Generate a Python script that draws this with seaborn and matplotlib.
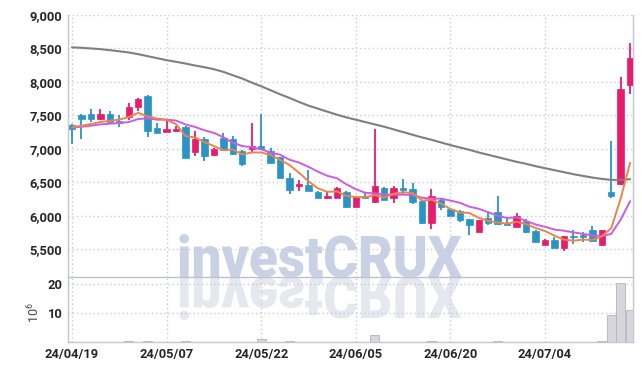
import numpy as np
import pandas as pd
import matplotlib
matplotlib.use("Agg")
import matplotlib.pyplot as plt
import seaborn as sns
from matplotlib import font_manager
from matplotlib.patheffects import AbstractPathEffect
from matplotlib.transforms import Affine2D
from matplotlib.ticker import StrMethodFormatter, FixedLocator

# trading days shown on the chart
dates = ["24/04/19", "24/04/22", "24/04/23", "24/04/24", "24/04/25", "24/04/26", "24/04/29", "24/04/30", "24/05/02", "24/05/03",
         "24/05/07", "24/05/08", "24/05/09", "24/05/10", "24/05/13", "24/05/14", "24/05/16", "24/05/17", "24/05/20", "24/05/21",
         "24/05/22", "24/05/23", "24/05/24", "24/05/27", "24/05/28", "24/05/29", "24/05/30", "24/05/31", "24/06/03", "24/06/04",
         "24/06/05", "24/06/07", "24/06/10", "24/06/11", "24/06/12", "24/06/13", "24/06/14", "24/06/17", "24/06/18", "24/06/19",
         "24/06/20", "24/06/21", "24/06/24", "24/06/25", "24/06/26", "24/06/27", "24/06/28", "24/07/01", "24/07/02", "24/07/03",
         "24/07/04", "24/07/05", "24/07/08", "24/07/09", "24/07/10", "24/07/11", "24/07/12", "24/07/15", "24/07/16", "24/07/17"]

opens = [7361, 7510, 7525, 7440, 7520, 7420, 7470, 7620, 7790, 7315,
         7245, 7265, 7325, 6950, 7150, 6913, 7160, 7150, 6970, 7000,
         7040, 6963, 6873, 6570, 6450, 6455, 6350, 6260, 6260, 6355,
         6130, 6290, 6200, 6420, 6265, 6420, 6400, 6215, 5890, 6240,
         6100, 6070, 5945, 5755, 5970, 6050, 5890, 5830, 5920, 5770,
         5560, 5640, 5510, 5700, 5715, 5785, 5565, 6350, 6470, 7953]
highs = [7370, 7515, 7600, 7595, 7565, 7500, 7685, 7760, 7800, 7385,
         7445, 7335, 7335, 7260, 7175, 7010, 7235, 7185, 6980, 7385,
         7520, 7012, 6880, 6640, 6530, 6680, 6370, 6365, 6430, 6375,
         6290, 6350, 7296, 6430, 6440, 6545, 6485, 6240, 6405, 6265,
         6115, 6085, 5950, 5935, 6070, 6300, 5985, 6040, 5945, 5780,
         5645, 5675, 5700, 5780, 5750, 5840, 5785, 7120, 8072, 8585]
lows = [7075, 7150, 7400, 7430, 7395, 7325, 7425, 7560, 7175, 7230,
        7245, 7255, 6860, 6893, 6813, 6895, 6985, 6900, 6750, 6940,
        6990, 6795, 6560, 6325, 6375, 6365, 6260, 6250, 6260, 6115,
        6130, 6260, 6190, 6235, 6195, 6320, 6180, 5880, 5800, 6090,
        5990, 5910, 5710, 5755, 5865, 5865, 5855, 5825, 5745, 5605,
        5555, 5515, 5475, 5575, 5600, 5610, 5550, 6270, 6460, 7813]
closes = [7296, 7440, 7440, 7520, 7395, 7390, 7630, 7750, 7260, 7230,
          7300, 7300, 6865, 7150, 6890, 7000, 6985, 6920, 6780, 7040,
          7000, 6795, 6560, 6390, 6465, 6365, 6260, 6300, 6420, 6130,
          6280, 6260, 6450, 6240, 6415, 6390, 6200, 5890, 6295, 6125,
          5990, 5935, 5860, 5930, 5890, 5870, 5860, 5990, 5755, 5605,
          5640, 5515, 5695, 5675, 5685, 5620, 5780, 6300, 7900, 8365]

# moving averages
ma5 = [7320, 7345, 7370, 7400, 7418, 7437, 7475, 7537, 7485, 7452,
       7434, 7368, 7191, 7169, 7101, 7041, 6978, 6989, 6915, 6945,
       6945, 6907, 6835, 6757, 6642, 6515, 6408, 6356, 6362, 6295,
       6278, 6278, 6308, 6272, 6329, 6351, 6339, 6227, 6238, 6180,
       6100, 6047, 6041, 5968, 5921, 5897, 5882, 5908, 5873, 5816,
       5770, 5701, 5642, 5626, 5642, 5638, 5691, 5812, 6257, 6793]
ma10 = [7315, 7330, 7345, 7365, 7375, 7385, 7400, 7445, 7455, 7435,
        7436, 7422, 7364, 7327, 7277, 7238, 7173, 7090, 7042, 7023,
        6993, 6943, 6912, 6836, 6794, 6730, 6658, 6596, 6560, 6469,
        6397, 6343, 6332, 6317, 6312, 6315, 6309, 6268, 6255, 6255,
        6226, 6193, 6134, 6103, 6051, 5999, 5965, 5975, 5921, 5869,
        5834, 5792, 5775, 5750, 5729, 5704, 5696, 5727, 5942, 6218]
ma_long = [8517, 8510, 8500, 8490, 8475, 8458, 8440, 8415, 8385, 8355,
           8325, 8300, 8275, 8245, 8220, 8190, 8150, 8100, 8050, 7990,
           7935, 7875, 7815, 7760, 7700, 7645, 7600, 7555, 7510, 7470,
           7435, 7400, 7365, 7330, 7290, 7250, 7210, 7170, 7135, 7095,
           7055, 7020, 6985, 6945, 6910, 6875, 6840, 6805, 6775, 6740,
           6710, 6680, 6650, 6620, 6595, 6570, 6550, 6535, 6535, 6545]

# volume in millions
volume = [0.08, 0.06, 0.10, 0.07, 0.05, 0.06, 0.45, 0.12, 0.45, 0.08,
          0.06, 0.05, 0.45, 0.10, 0.07, 0.05, 0.06, 0.05, 0.08, 0.10,
          1.10, 0.08, 0.10, 0.45, 0.06, 0.08, 0.05, 0.06, 0.07, 0.10,
          0.08, 0.06, 2.40, 0.10, 0.08, 0.12, 0.07, 0.10, 0.55, 0.08,
          0.06, 0.05, 0.08, 0.10, 0.06, 0.40, 0.05, 0.07, 0.06, 0.08,
          0.10, 0.06, 0.08, 0.05, 0.06, 0.08, 0.30, 9.30, 20.2, 11.0]

df = pd.DataFrame({"date": dates, "open": opens, "high": highs, "low": lows,
                   "close": closes, "ma5": ma5, "ma10": ma10, "ma_long": ma_long,
                   "volume": volume})
df["idx"] = np.arange(len(df))

UP = "#e81c6c"
DOWN = "#2b94c6"
GRID = "#c7cbdc"
SPINE = "#c4c6d2"

sns.set_theme(style="white")
names = {f.name for f in font_manager.fontManager.ttflist}
tick_font = "Roboto" if "Roboto" in names else "DejaVu Sans"
plt.rcParams["font.family"] = [tick_font, "DejaVu Sans"]


class Squash(AbstractPathEffect):
    """draw text glyphs scaled (and optionally mirrored) about the baseline"""
    def __init__(self, sx=1.0, sy=1.0):
        super().__init__()
        self.sx, self.sy = sx, sy

    def draw_path(self, renderer, gc, tpath, affine, rgbFace=None):
        renderer.draw_path(gc, tpath, Affine2D().scale(self.sx, self.sy) + affine, rgbFace)


fig = plt.figure(figsize=(6.42, 3.71), dpi=100, facecolor="white")
L, W = 68 / 642, (633 - 68) / 642
ax = fig.add_axes([L, 1 - 277 / 371, W, (277 - 15) / 371])
axv = fig.add_axes([L, 1 - 342.3 / 371, W, (342.3 - 277) / 371], sharex=ax)
for a in (ax, axv):
    a.patch.set_alpha(0)

# watermark + reflection behind the axes
wm_x, wm_y = 177 / 642, 1 - 277 / 371
fig.text(wm_x, wm_y, "investCRUX", ha="left", va="baseline", fontsize=41.5,
         fontweight="black", family=tick_font, color="#c9d1e5", zorder=-2,
         path_effects=[Squash(0.92, 1.0)])
fig.text(wm_x, wm_y, "investCRUX", ha="left", va="baseline", fontsize=41.5,
         fontweight="black", family=tick_font, color="#e6e8f0", zorder=-2,
         path_effects=[Squash(0.92, -1.0)])

# candles
up = df["close"] >= df["open"]
colors = np.where(up, UP, DOWN)
ax.vlines(df["idx"], df["low"], df["high"], colors=colors, lw=1.3, zorder=3)
body_lo = np.minimum(df["open"], df["close"])
body_h = np.maximum(np.abs(df["close"] - df["open"]), 25)
ax.bar(df["idx"], body_h, bottom=body_lo, width=0.68, color=colors,
       edgecolor=colors, lw=0.5, zorder=4)

# moving averages
sns.lineplot(data=df, x="idx", y="ma_long", ax=ax, color="#7f7f7f", lw=1.5, zorder=5)
sns.lineplot(data=df, x="idx", y="ma10", ax=ax, color="#cc5ce8", lw=1.4, zorder=5)
sns.lineplot(data=df, x="idx", y="ma5", ax=ax, color="#ef844a", lw=1.4, zorder=6)

# volume
axv.bar(df["idx"], df["volume"], width=0.95, color="#d6d6dc", edgecolor="#b4b4bc",
        lw=0.6, zorder=3)

ax.set_xlim(-0.42, 59.3)
ax.set_ylim(5083, 9000.5)
axv.set_ylim(0, 22.4)

ax.yaxis.set_major_locator(FixedLocator([5500, 6000, 6500, 7000, 7500, 8000, 8500, 9000]))
ax.yaxis.set_major_formatter(StrMethodFormatter("{x:,.0f}"))
axv.yaxis.set_major_locator(FixedLocator([10, 20]))
tick_pos = df["idx"][::10].tolist()
axv.xaxis.set_major_locator(FixedLocator(tick_pos))
axv.set_xticklabels(df["date"][::10].tolist())
ax.tick_params(axis="x", labelbottom=False)

for a in (ax, axv):
    a.set_xlabel("")
    a.set_ylabel("")
    a.grid(True, color=GRID, lw=1.0, linestyle=(0, (1, 2)))
    a.set_axisbelow(True)
    a.tick_params(length=0, pad=4, labelsize=9.3, colors="#262626")
    for lab in a.get_yticklabels() + a.get_xticklabels():
        lab.set_fontweight("bold")
    for s in ("left", "right", "bottom"):
        a.spines[s].set_visible(True)
        a.spines[s].set_color(SPINE)
        a.spines[s].set_linewidth(1.0)
    a.spines["top"].set_visible(False)
ax.spines["bottom"].set_color("#bfc1cc")

fig.text(34 / 642, 1 - 313 / 371, r"$\mathregular{10^6}$", rotation=90, ha="center",
         va="center", fontsize=9, color="#444444")

fig.savefig("out.png", dpi=100, facecolor="white")
